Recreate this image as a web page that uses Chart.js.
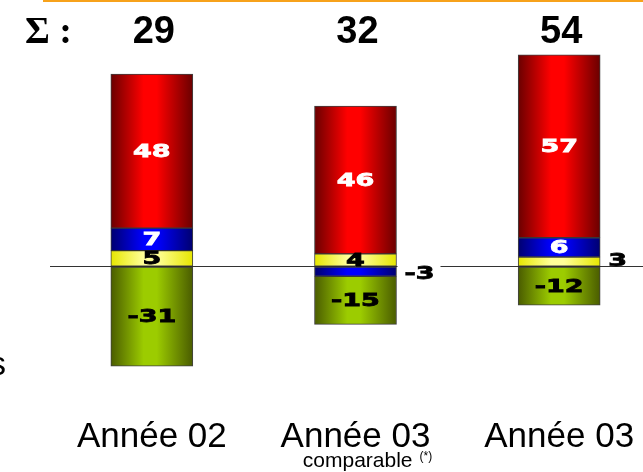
<!DOCTYPE html>
<html lang="fr">
<head>
<meta charset="utf-8">
<title>Σ par année</title>
<script src="https://cdn.jsdelivr.net/npm/chart.js@4/dist/chart.umd.min.js"></script>
<style>
  html, body { margin: 0; padding: 0; background: #fff; overflow: hidden; }
  #wrap { position: absolute; left: 0; top: 0; width: 661px; height: 472px; }
</style>
</head>
<body>
<div id="wrap"><canvas id="chart"></canvas></div>
<script>
// ========== DATA ==========
const categories = ["Année 02", "Année 03", "Année 03"];
const subLabels = ["", "comparable", ""];
const yellowValues = [5, 4, 3];
const blueValues = [7, -3, 6];
const redValues = [48, 46, 57];
const greenValues = [-31, -15, -12];
const yMin = -40;
const yMax = 70;

const BAR_W = 82;

// horizontal "cylinder" gradient for each segment
function cylinder(edge, mid) {
    return (c) => {
        const xs = c.chart.scales.x;
        if (!xs || c.dataIndex === undefined) return mid;
        const cx = xs.getPixelForValue(c.dataIndex);
        if (!Number.isFinite(cx)) return mid;
        const g = c.chart.ctx.createLinearGradient(cx - BAR_W / 2, 0, cx + BAR_W / 2, 0);
        g.addColorStop(0, edge);
        g.addColorStop(0.4, mid);
        g.addColorStop(0.56, mid);
        g.addColorStop(1, edge);
        return g;
    };
}

// draw text stretched horizontally (wide, heavy label font)
function wideText(ctx, txt, x, y, align) {
    const sx = 1.5;
    const w = ctx.measureText(txt).width * sx;
    let left = x;
    if (align === "center") left = x - w / 2;
    ctx.save();
    ctx.translate(left, y);
    ctx.scale(sx, 1);
    ctx.textAlign = "left";
    ctx.strokeStyle = ctx.fillStyle;
    ctx.lineWidth = 0.8;
    ctx.fillText(txt, 0, 0);
    ctx.strokeText(txt, 0, 0);
    ctx.restore();
    return w;
}

const segmentLabels = {
    id: "segmentLabels",
    afterDatasetsDraw(chart) {
        const ctx = chart.ctx;
        chart.data.datasets.forEach((ds, di) => {
            const meta = chart.getDatasetMeta(di);
            meta.data.forEach((bar, i) => {
                const v = ds.data[i];
                const txt = String(v);
                const h = Math.abs(bar.base - bar.y);
                const cy = (bar.base + bar.y) / 2;
                ctx.save();
                ctx.font = 'bold 18px "DejaVu Sans"';
                ctx.textBaseline = "middle";
                if (h < 11) {
                    // too thin: put the value to the right of the bar
                    const x = bar.x + bar.width / 2 + 8;
                    const y = v < 0 ? cy + 3 : cy;
                    const w = ctx.measureText(txt).width * 1.5;
                    if (v < 0) {
                        ctx.fillStyle = "#fff";
                        ctx.fillRect(bar.x + bar.width / 2 + 1, y - 11, w + 13, 20);
                    }
                    ctx.fillStyle = "#000";
                    wideText(ctx, txt, x, y, "left");
                } else {
                    ctx.fillStyle = ds.labelColor;
                    wideText(ctx, txt, bar.x, cy + 1, "center");
                }
                ctx.restore();
            });
        });
    },
    afterDraw(chart) {
        const ctx = chart.ctx;
        const xs = chart.scales.x;
        ctx.save();
        // orange rule on top
        ctx.fillStyle = "#F7A21B";
        ctx.fillRect(43, 0, chart.width, 2);

        // totals
        ctx.fillStyle = "#000";
        ctx.textBaseline = "alphabetic";
        ctx.font = 'bold 38px "Liberation Serif"';
        ctx.textAlign = "left";
        ctx.fillText("Σ :", 25, 43);
        ctx.font = 'bold 38px "Liberation Sans"';
        ctx.textAlign = "center";
        categories.forEach((c, i) => {
            const total = yellowValues[i] + blueValues[i] + redValues[i] + greenValues[i];
            ctx.fillText(String(total), xs.getPixelForValue(i) + 2, 43);
        });

        // sub labels under the category names
        categories.forEach((c, i) => {
            if (!subLabels[i]) return;
            const cx = xs.getPixelForValue(i) + 12;
            ctx.font = '21px "Liberation Sans"';
            const w = ctx.measureText(subLabels[i]).width;
            ctx.font = '12px "Liberation Sans"';
            const ws = ctx.measureText("(*)").width;
            const left = cx - (w + 7 + ws) / 2;
            ctx.textAlign = "left";
            ctx.font = '21px "Liberation Sans"';
            ctx.fillText(subLabels[i], left, 467);
            ctx.font = '12px "Liberation Sans"';
            ctx.fillText("(*)", left + w + 7, 460);
        });

        // cut-off text at the left edge
        ctx.font = '34px "Liberation Sans"';
        ctx.textAlign = "right";
        ctx.fillText("s", 6, 375);
        ctx.restore();
    }
};

const ctx = document.getElementById("chart").getContext("2d");
new Chart(ctx, {
    type: "bar",
    data: {
        labels: categories,
        datasets: [
            { label: "jaune", data: yellowValues, labelColor: "#000",
              backgroundColor: cylinder("#e6e600", "#ffff99") },
            { label: "bleu", data: blueValues, labelColor: "#fff",
              backgroundColor: cylinder("#000070", "#0000ff") },
            { label: "rouge", data: redValues, labelColor: "#fff",
              backgroundColor: cylinder("#6a0000", "#ff0000") },
            { label: "vert", data: greenValues, labelColor: "#000",
              backgroundColor: cylinder("#4a5c00", "#9ccc00") }
        ]
    },
    options: {
        responsive: true,
        maintainAspectRatio: false,
        animation: false,
        layout: { padding: { top: 42, left: 50, right: 0, bottom: -7 } },
        datasets: {
            bar: {
                barThickness: BAR_W,
                borderWidth: 1,
                borderColor: "rgba(30,30,30,0.85)",
                borderSkipped: false
            }
        },
        plugins: {
            legend: { display: false },
            tooltip: { enabled: false }
        },
        scales: {
            x: {
                stacked: true,
                grid: { display: false, drawTicks: false },
                border: { display: false },
                ticks: {
                    padding: 21,
                    color: "#000",
                    font: { family: "Liberation Sans", size: 35 }
                }
            },
            y: {
                stacked: true,
                min: yMin,
                max: yMax,
                ticks: { display: false, stepSize: 10 },
                border: { display: false },
                grid: {
                    drawTicks: false,
                    lineWidth: 1,
                    color: (c) => (c.tick && c.tick.value === 0 ? "#333" : "rgba(0,0,0,0)")
                }
            }
        }
    },
    plugins: [segmentLabels]
});
</script>
</body>
</html>
